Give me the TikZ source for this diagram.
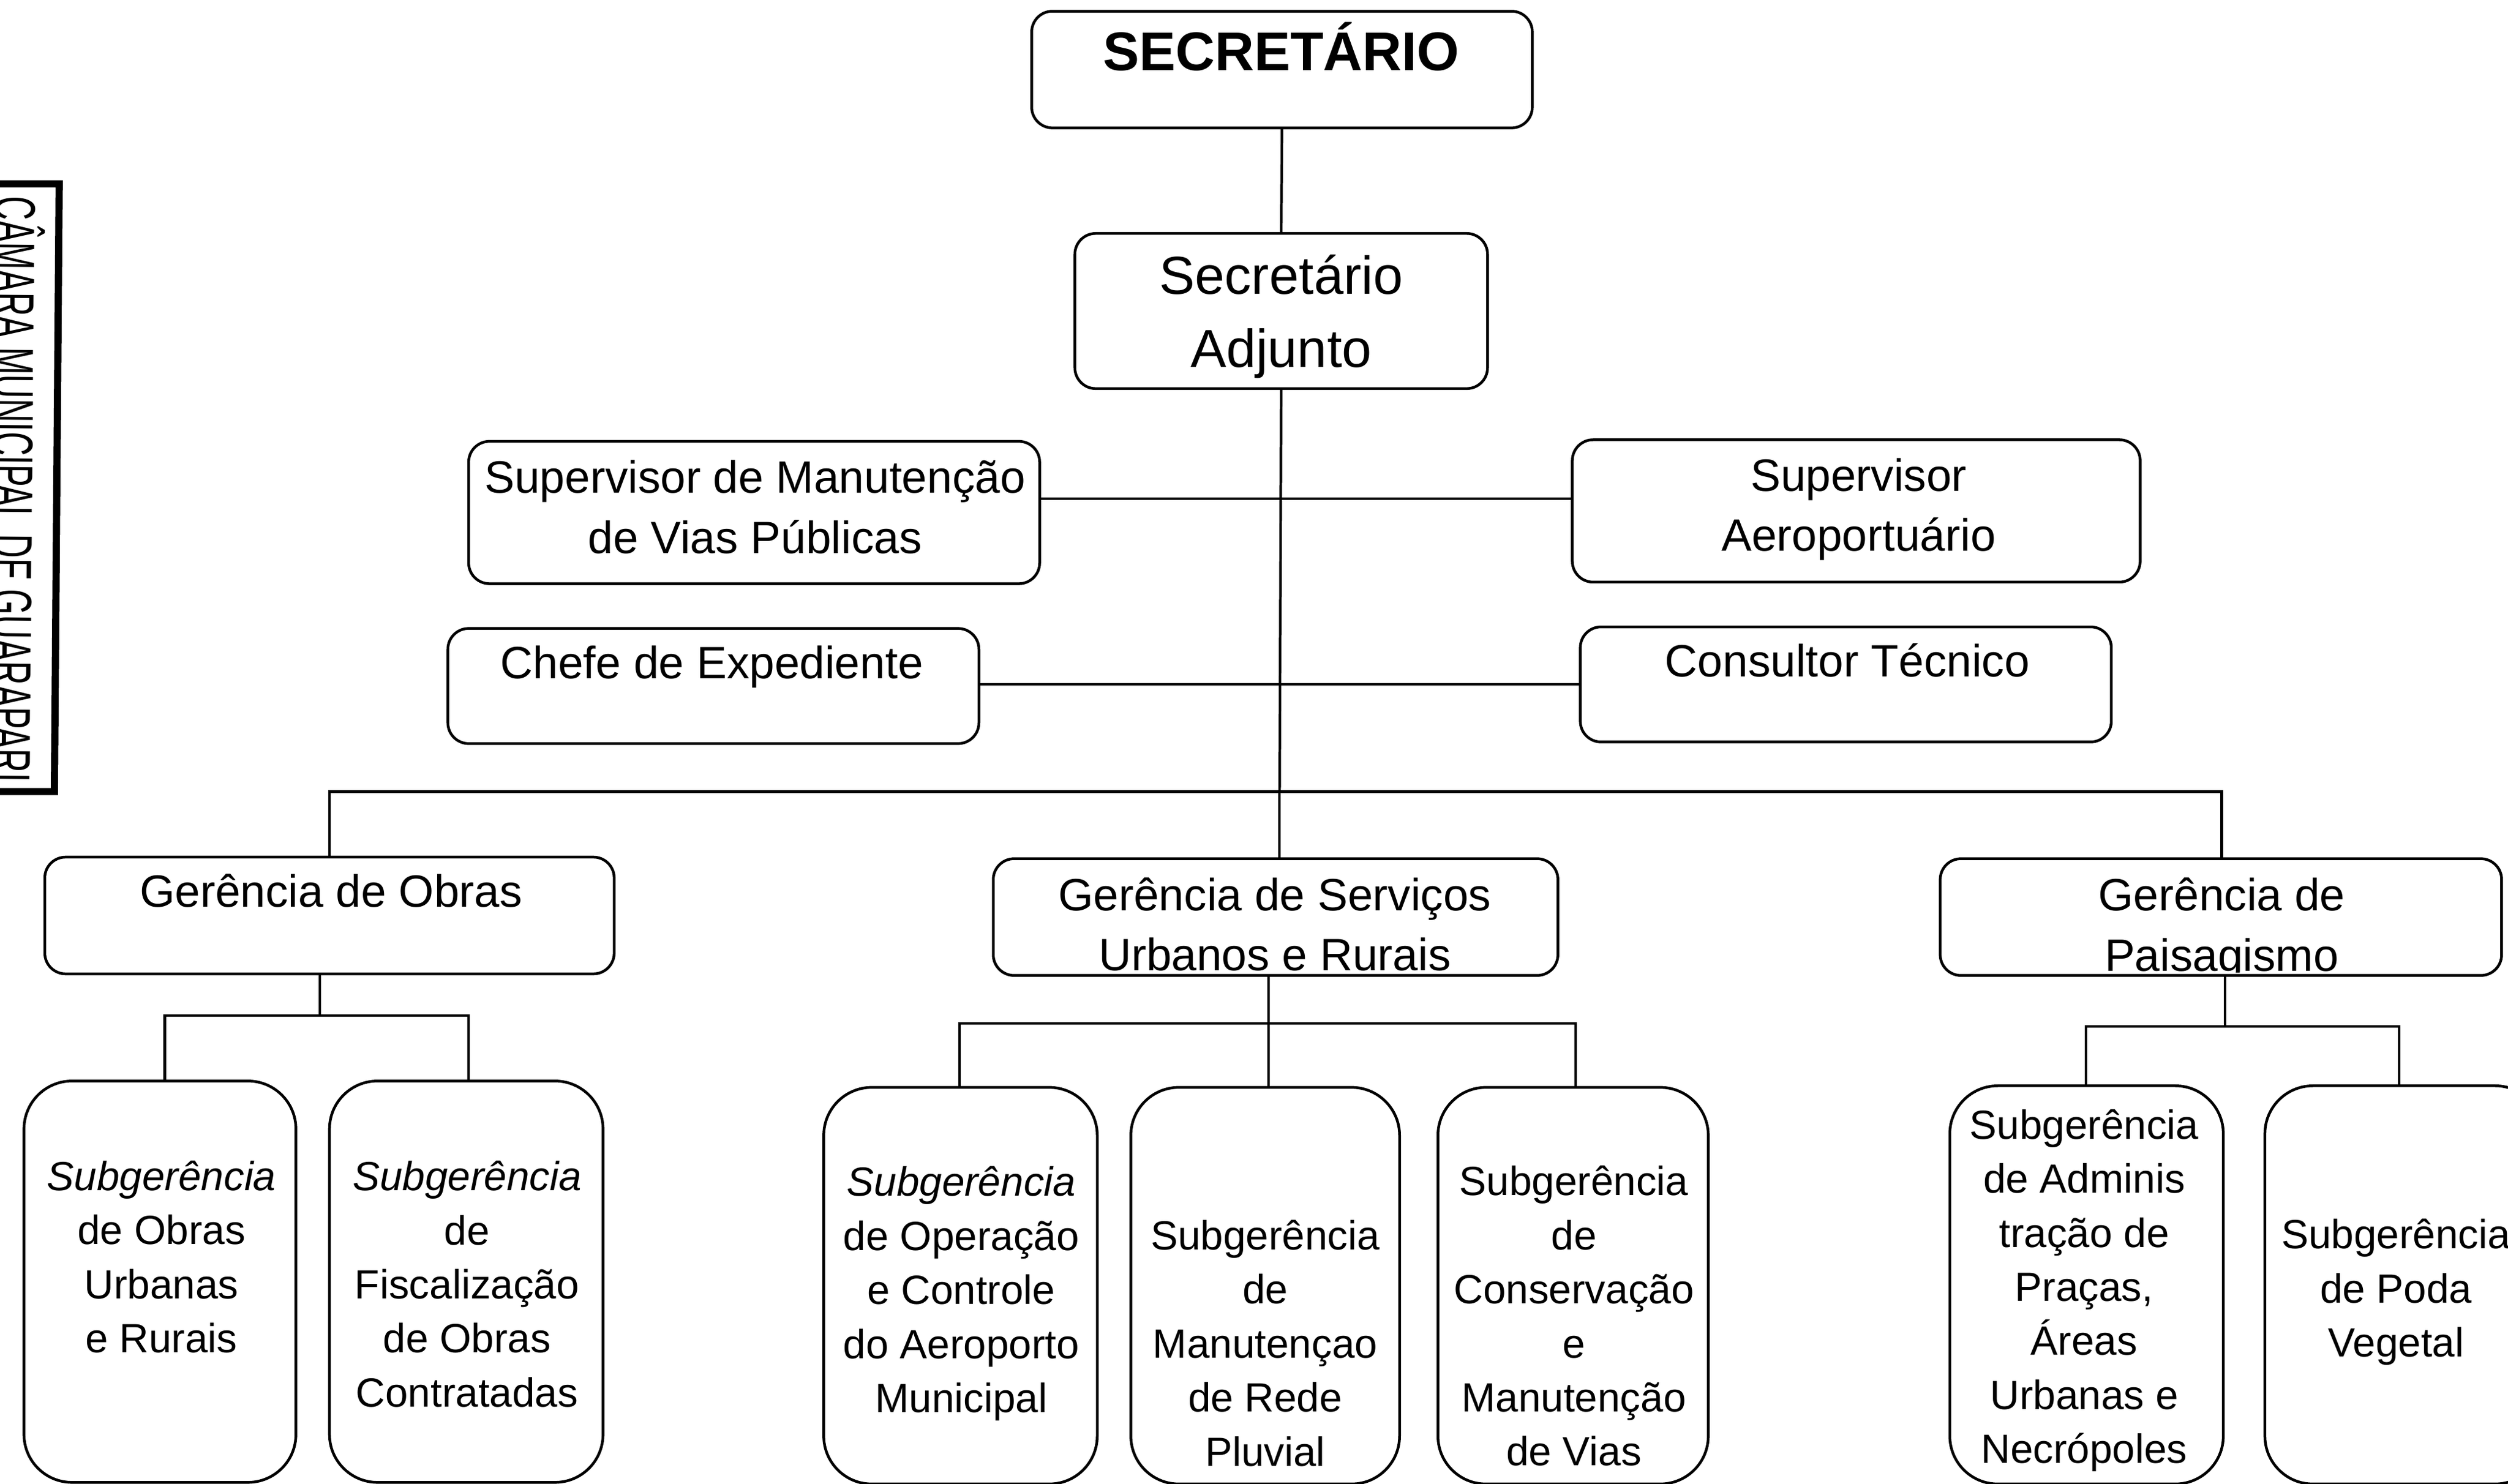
\documentclass[tikz,border=0pt]{standalone}
\usepackage{fontspec}
\setmainfont{Liberation Sans}
\tikzset{
  every node/.style={inner sep=0pt,outer sep=0pt},
  box/.style={draw=black,line width=1.7pt,rounded corners=13pt,fill=none},
  subbox/.style={box,rounded corners=30pt},
  link/.style={draw=black,line width=1.6pt},
  txt/.style={align=center,font=\fontsize{28.3}{37.7}\selectfont},
  subtxt/.style={align=center,font=\fontsize{25.5}{33.8}\selectfont},
}
\newcommand{\orgbox}[6]{\node[#6,minimum width={#4-#2},minimum height={#5-#3}] (#1) at ({(#2+#4)/2},{(#3+#5)/2}) {};}
\begin{document}
\begin{tikzpicture}[x=1pt,y=-1pt]
\useasboundingbox (0,0) rectangle (1568,927.66);
% stamp
\draw[line width=4.5pt,line join=miter] (-2,115) -- (37,115) -- (34,495) -- (-2,495);
\node[rotate=-90.5,anchor=center] (stamp) at (11,306) {\scalebox{0.575}[1]{\fontsize{36}{36}\selectfont CÂMARA MUNICIPAL DE GUARAPARI}};
% boxes
\orgbox{sec}{645}{7}{958}{80}{box}
\orgbox{adj}{672}{146}{930}{243}{box}
\orgbox{sma}{293}{276}{650}{365}{box}
\orgbox{sa}{983}{275}{1338}{364}{box}
\orgbox{che}{280}{393}{612}{465}{box}
\orgbox{con}{988}{392}{1320}{464}{box}
\orgbox{gob}{28}{536}{384}{609}{box}
\orgbox{gsu}{621}{537}{974}{610}{box}
\orgbox{gpa}{1213}{537}{1564}{610}{box}
\orgbox{s1}{15}{676}{185}{927}{subbox}
\orgbox{s2}{206}{676}{377}{927}{subbox}
\orgbox{s3}{515}{680}{686}{928}{subbox}
\orgbox{s4}{707}{680}{875}{928}{subbox}
\orgbox{s5}{899}{680}{1068}{928}{subbox}
\orgbox{s6}{1219}{679}{1390}{928}{subbox}
\orgbox{s7}{1416}{679}{1590}{928}{subbox}
% texts
\node[font=\fontsize{34}{34}\selectfont\bfseries] (tsec) at (801,29) {SECRETÁRIO};
\node[align=center,font=\fontsize{33.4}{46}\selectfont] (tadj) at (801,198) {Secretário\\Adjunto};
\node[txt] (tsma) at (472,317) {Supervisor de Manutenção\\de Vias Públicas};
\node[txt] (tsa) at (1162,318.5) {Supervisor\\Aeroportuário};
\node[txt] (tche) at (445,417) {Chefe de Expediente};
\node[txt] (tcon) at (1155,413) {Consultor Técnico};
\node[txt] (tgob) at (207,557) {Gerência de Obras};
\begin{scope}
\clip (621,537) rectangle (974,608);
\node[txt] (tgsu) at (797,578) {Gerência de Serviços\\Urbanos e Rurais};
\end{scope}
\begin{scope}
\clip (1213,537) rectangle (1564,608);
\node[txt] (tgpa) at (1389,581) {Gerência de\\Paisagismo};
\end{scope}
\node[subtxt] (ts1) at (101,786) {\itshape Subgerência\\de Obras\\Urbanas\\e Rurais};
\node[subtxt] (ts2) at (292,803) {\itshape Subgerência\\de\\Fiscalização\\de Obras\\Contratadas};
\node[subtxt] (ts3) at (601,809) {\itshape Subgerência\\de Operação\\e Controle\\do Aeroporto\\Municipal};
\node[subtxt] (ts4) at (791,840) {Subgerência\\de\\Manutençao\\de  Rede\\Pluvial};
\node[subtxt] (ts5) at (984,823) {Subgerência\\de\\Conservação\\e\\Manutenção\\de Vias};
\node[subtxt] (ts6) at (1303,807) {Subgerência\\de Adminis\\tração de\\Praças,\\Áreas\\Urbanas e\\Necrópoles};
\node[subtxt] (ts7) at (1498,808) {Subgerência\\de Poda\\Vegetal};
% junctions
\coordinate (j1) at (800,312);
\coordinate (j2) at (800,428);
\coordinate (bus) at (800,495);
\coordinate (busl) at (206,495);
\coordinate (busr) at (1389,495);
\coordinate (ja) at (200,635);
\coordinate (jal) at (103,635);
\coordinate (jar) at (293,635);
\coordinate (jb) at (793,640);
\coordinate (jbl) at (600,640);
\coordinate (jbr) at (985,640);
\coordinate (jc) at (1391,642);
\coordinate (jcl) at (1304,642);
\coordinate (jcr) at (1500,642);
% connectors
\draw[link] (sec.south) -- (adj.north);
\draw[link] (adj.south) -- (bus);
\draw[link] (sma.east |- j1) -- (sa.west |- j1);
\draw[link] (che.east |- j2) -- (con.west |- j2);
\draw[link] (gob.north -| busl) -- (busl) -- (busr) -- (gpa.north -| busr);
\draw[link] (bus) -- (gsu.north -| bus);
\draw[link] (gob.south -| ja) -- (ja);
\draw[link] (s1.north -| jal) -- (jal) -- (jar) -- (s2.north -| jar);
\draw[link] (gsu.south -| jb) -- (jb);
\draw[link] (s3.north -| jbl) -- (jbl) -- (jbr) -- (s5.north -| jbr);
\draw[link] (jb) -- (s4.north -| jb);
\draw[link] (gpa.south -| jc) -- (jc);
\draw[link] (s6.north -| jcl) -- (jcl) -- (jcr) -- (s7.north -| jcr);
\end{tikzpicture}
\end{document}
